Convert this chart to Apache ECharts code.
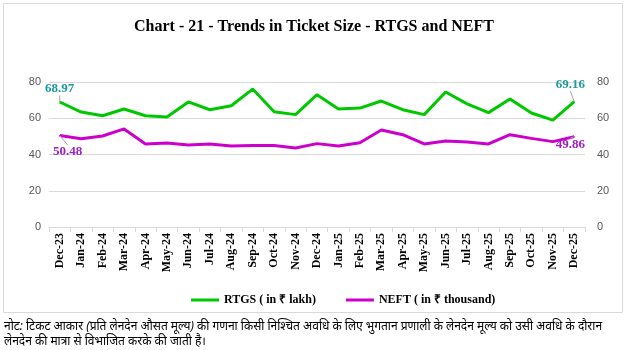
<!DOCTYPE html>
<html>
<head>
<meta charset="utf-8">
<script src="https://cdn.jsdelivr.net/npm/echarts@6/dist/echarts.min.js"></script>
<style>
  html, body { margin: 0; padding: 0; background: #fff; }
  #chart { width: 628px; height: 350px; }
</style>
</head>
<body>
<div id="chart"></div>
<script>
var months = ['Dec-23', 'Jan-24', 'Feb-24', 'Mar-24', 'Apr-24', 'May-24', 'Jun-24', 'Jul-24', 'Aug-24',
  'Sep-24', 'Oct-24', 'Nov-24', 'Dec-24', 'Jan-25', 'Feb-25', 'Mar-25', 'Apr-25', 'May-25', 'Jun-25',
  'Jul-25', 'Aug-25', 'Sep-25', 'Oct-25', 'Nov-25', 'Dec-25'];
var rtgs = [68.97, 63.4, 61.4, 65.1, 61.4, 60.7, 69.0, 64.7, 66.9, 76.1, 63.6, 62.0, 73.0,
  65.1, 65.6, 69.5, 64.7, 62.0, 74.5, 67.9, 63.1, 70.6, 62.9, 59.0, 69.16];
var neft = [50.48, 48.7, 50.2, 54.1, 45.8, 46.3, 45.2, 45.8, 44.7, 45.0, 45.0, 43.6, 46.0,
  44.7, 46.5, 53.5, 50.9, 45.8, 47.4, 46.9, 45.8, 50.9, 48.9, 47.1, 49.86];
var yTicks = [0, 20, 40, 60, 80];

var serif = 'Liberation Serif';
var note = 'नोट: टिकट आकार (प्रति लेनदेन औसत मूल्य) की गणना किसी निश्चित अवधि के लिए भुगतान प्रणाली के लेनदेन मूल्य को उसी अवधि के दौरान\nलेनदेन की मात्रा से विभाजित करके की जाती है।';

// only first and last points carry a label
function withEndLabels(values, color, first, last) {
  return values.map(function (v, i) {
    if (i === 0) return { value: v, label: Object.assign({ show: true, color: color }, first) };
    if (i === values.length - 1) return { value: v, label: Object.assign({ show: true, color: color }, last) };
    return v;
  });
}

var chart = echarts.init(document.getElementById('chart'));

var option = {
  animation: false,
  title: {
    text: 'Chart - 21 - Trends in Ticket Size - RTGS and NEFT',
    left: 'center',
    top: 14,
    textStyle: { fontFamily: serif, fontWeight: 'bold', fontSize: 16, color: '#000' }
  },
  graphic: [
    {
      type: 'rect',
      shape: { x: 3.5, y: 3.5, width: 619, height: 309 },
      style: { fill: 'none', stroke: '#d9d9d9', lineWidth: 1 },
      silent: true
    },
    {
      type: 'text',
      left: 4,
      top: 319,
      style: {
        text: note,
        fontSize: 12,
        fontStyle: 'italic',
        lineHeight: 15,
        fill: '#000',
        fontFamily: 'Noto Sans'
      }
    }
  ],
  legend: {
    left: 186,
    top: 289,
    itemWidth: 28,
    itemHeight: 3,
    itemGap: 30,
    icon: 'rect',
    textStyle: { fontFamily: serif, fontWeight: 'bold', fontSize: 12, color: '#000' },
    data: ['RTGS ( in ₹ lakh)', 'NEFT ( in ₹ thousand)']
  },
  grid: { left: 49, right: 43, top: 82, bottom: 123 },
  xAxis: {
    type: 'category',
    data: months,
    boundaryGap: true,
    axisLine: { lineStyle: { color: '#d9d9d9' } },
    axisTick: { show: true, alignWithLabel: false, lineStyle: { color: '#d9d9d9' } },
    axisLabel: {
      rotate: 90,
      interval: 0,
      fontFamily: serif,
      fontWeight: 'bold',
      fontSize: 12,
      color: '#000',
      margin: 6
    }
  },
  yAxis: [
    {
      type: 'value',
      min: yTicks[0],
      max: yTicks[yTicks.length - 1],
      interval: 20,
      axisLabel: { color: '#595959', fontSize: 11, fontFamily: 'Liberation Sans', margin: 8 },
      splitLine: { lineStyle: { color: '#d9d9d9' } },
      axisLine: { show: false },
      axisTick: { show: false }
    },
    {
      type: 'value',
      position: 'right',
      min: yTicks[0],
      max: yTicks[yTicks.length - 1],
      interval: 20,
      axisLabel: { color: '#595959', fontSize: 11, fontFamily: 'Liberation Sans', margin: 12 },
      splitLine: { show: false },
      axisLine: { show: false },
      axisTick: { show: false }
    }
  ],
  series: [
    {
      name: 'RTGS ( in ₹ lakh)',
      type: 'line',
      yAxisIndex: 0,
      symbol: 'circle',
      symbolSize: 1,
      showSymbol: true,
      color: '#00c800',
      lineStyle: { width: 3, color: '#00c800' },
      label: { fontFamily: serif, fontWeight: 'bold', fontSize: 13 },
      labelLine: { show: true, lineStyle: { color: '#a6a6a6', width: 1 } },
      labelLayout: function (p) {
        if (p.dataIndex === rtgs.length - 1) return { dx: -4, dy: -4 };
        return {};
      },
      data: withEndLabels(rtgs, '#1a9b9b',
        { position: 'top', distance: 6 },
        { position: 'top', distance: 6 })
    },
    {
      name: 'NEFT ( in ₹ thousand)',
      type: 'line',
      yAxisIndex: 0,
      symbol: 'circle',
      symbolSize: 1,
      showSymbol: true,
      color: '#cc00cc',
      lineStyle: { width: 3, color: '#cc00cc' },
      label: { fontFamily: serif, fontWeight: 'bold', fontSize: 13 },
      labelLine: { show: true, lineStyle: { color: '#a6a6a6', width: 1 } },
      labelLayout: function (p) {
        if (p.dataIndex === 0) return { dx: 8, dy: 4 };
        if (p.dataIndex === neft.length - 1) return { dx: -4 };
        return {};
      },
      data: withEndLabels(neft, '#a020c8',
        { position: 'bottom', distance: 5 },
        { position: 'bottom', distance: 1 })
    }
  ]
};

chart.setOption(option);
</script>
</body>
</html>
